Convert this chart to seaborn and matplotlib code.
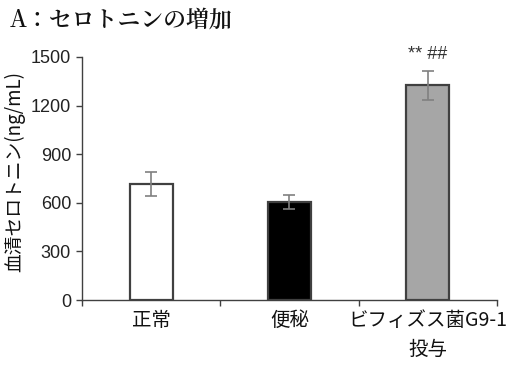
import matplotlib
matplotlib.use("Agg")
import matplotlib.pyplot as plt
import seaborn as sns
import pandas as pd
from matplotlib.ticker import FixedLocator

categories = ["正常", "便秘", "ビフィズス菌G9-1\n投与"]
values = [715, 605, 1325]
errors = [75, 45, 90]
bar_colors = ["#ffffff", "#000000", "#a6a6a6"]
yticks = [0, 300, 600, 900, 1200, 1500]
annotation = "** ##"

sns.set_theme(style="white")
plt.rcParams['font.family'] = ['Liberation Sans', 'Noto Sans CJK JP', 'DejaVu Sans']

fig = plt.figure(figsize=(5.07, 3.70), dpi=100)
ax = fig.add_axes([0.162, 0.189, 0.818, 0.657])

df = pd.DataFrame({"cat": categories, "val": values})
sns.barplot(data=df, x="cat", y="val", hue="cat", palette=bar_colors, legend=False,
            width=0.31, edgecolor="#404040", linewidth=1.6, errorbar=None, ax=ax)
ax.errorbar(range(len(categories)), values, yerr=errors, fmt="none",
            ecolor="#808080", elinewidth=1.2, capsize=4, capthick=1.2)

ax.set_xlim(-0.5, 2.5)
ax.set_ylim(0, 1500)
ax.set_yticks(yticks)
ax.set_yticklabels([str(t) for t in yticks], fontsize=13, color="#222222")
ax.set_xticks(range(len(categories)))
ax.set_xticklabels(categories, fontsize=14, family=['Noto Sans CJK JP', 'DejaVu Sans'],
                   linespacing=1.5, color="#111111")
ax.xaxis.set_minor_locator(FixedLocator([-0.5, 0.5, 1.5, 2.5]))
ax.tick_params(axis="x", which="major", length=0, pad=7)
ax.tick_params(axis="x", which="minor", length=4, width=1, color="#404040", direction="out", bottom=True)
ax.tick_params(axis="y", length=4, width=1, color="#404040", direction="out", left=True, pad=4)
ax.set_xlabel("")
ax.set_ylabel("血清セロトニン(ng/mL)", fontsize=13.5, family=['Noto Sans CJK JP', 'DejaVu Sans'],
              color="#111111")
ax.yaxis.set_label_coords(-0.137, 0.53)

for s in ["top", "right"]:
    ax.spines[s].set_visible(False)
for s in ["left", "bottom"]:
    ax.spines[s].set_color("#404040")
    ax.spines[s].set_linewidth(1)

ax.text(2, 1465, annotation, ha="center", va="bottom", fontsize=13, color="#333333", clip_on=False)

fig.text(0.02, 0.98, "A：セロトニンの増加", ha="left", va="top", fontsize=16.5,
         family=['Noto Serif CJK JP', 'Noto Sans CJK JP', 'DejaVu Sans'], fontweight="semibold",
         color="#111111")

fig.savefig("out.png", dpi=100)
